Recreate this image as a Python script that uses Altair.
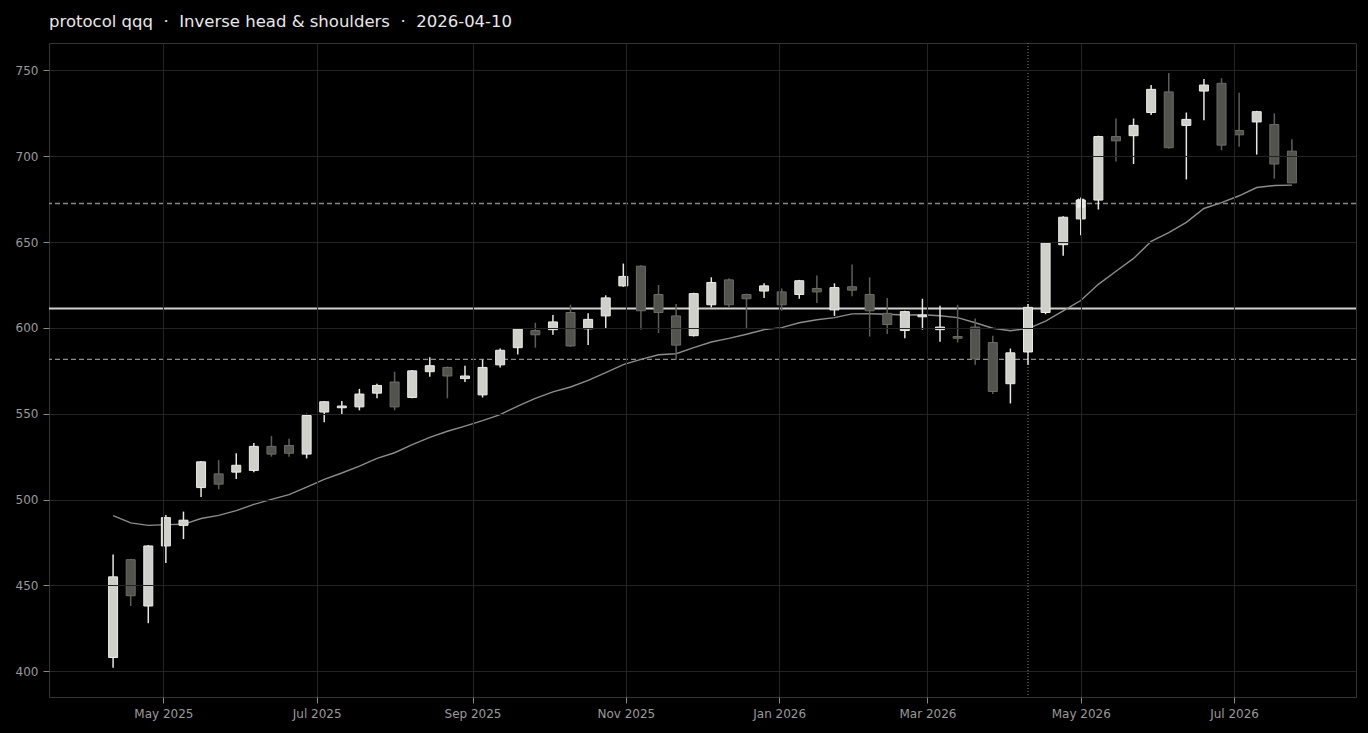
import altair as alt
import pandas as pd

# weekly candles (Fridays)
dates = pd.date_range("2025-04-11", periods=68, freq="7D").strftime("%Y-%m-%d").tolist()

opens = [408, 465, 438, 473, 485, 507, 515, 516, 517, 531, 531.5, 526.5, 551, 553.5, 554, 562,
         568.5, 559.5, 574.5, 577, 570.5, 561, 578.5, 588.5, 598.5, 599, 609, 599.5, 607, 624.5,
         636, 619.5, 607, 595.5, 613.5, 628, 619.5, 621.5, 621, 619.5, 623, 610.5, 624, 619.5,
         608.5, 598.5, 606.5, 599, 595, 600.5, 591.5, 567.5, 586, 609, 648.5, 663.5, 674.5, 711.5,
         712, 725.5, 737.5, 718, 738, 742.5, 715, 720, 718.5, 703]
highs = [468, 465.5, 473.5, 491, 493, 522.5, 523, 527, 533, 537, 535.5, 550, 557.5, 557.5, 564.5,
         567.5, 574.5, 575.5, 583, 577.5, 578, 581.5, 588, 600, 603, 607.5, 613.5, 608.5, 619,
         637.5, 636.5, 625, 614, 620.5, 629.5, 629, 620, 626, 623, 628, 630.5, 626, 637, 629.5,
         617.5, 610, 617, 613, 613.5, 605.5, 595.5, 588, 614, 650, 665, 676, 712, 722, 722, 741.5,
         748.5, 725.5, 745, 745.5, 737, 726.5, 725, 710]
lows = [402, 438, 428, 463, 477, 501.5, 506, 512, 516, 525, 525, 524, 545, 549.5, 552, 559, 552,
        559, 571.5, 559, 568.5, 559.5, 577, 584.5, 588.5, 596, 589, 590, 600, 624, 599, 597, 581.5,
        595, 612, 612, 600, 617.5, 610, 617, 614.5, 607, 618.5, 595, 596.5, 594, 599, 592, 591.5,
        578.5, 561.5, 556, 578.5, 608, 642, 654, 669, 697, 695.5, 724, 704.5, 686.5, 721, 703.5,
        705.5, 701, 687, 684.5]
closes = [455, 444, 473, 489.5, 488, 522, 509, 520, 531, 526.5, 527, 549, 557, 554.5, 561.5, 566.5,
          554, 575, 578, 572, 572, 577, 587, 599.5, 596, 603.5, 589.5, 605, 617.5, 630, 610, 609,
          590, 620, 626.5, 613.5, 617, 624.5, 613.5, 627.5, 621, 623.5, 622, 610, 602, 609.5, 607.5,
          600.5, 594, 582, 563, 585.5, 612, 649.5, 664.5, 674.5, 711.5, 709, 718, 739, 705, 721.5,
          741.5, 706.5, 712.5, 726, 695.5, 684.5]
ma = [490.7, 486.4, 485, 485.4, 485.6, 489, 490.8, 493.6, 497.2, 500.1, 502.9, 507.3, 511.8, 515.5,
      519.5, 524, 527.3, 532, 536.2, 539.8, 542.8, 546, 549.5, 554.5, 559, 562.8, 565.6, 569.5, 574,
      578.6, 581.7, 584.4, 585, 588.5, 591.8, 593.9, 596.3, 599, 600.2, 603, 604.8, 606, 608.2, 608.3,
      608, 607.5, 607.7, 607.1, 606, 603, 599.8, 598.4, 599.6, 604, 610, 616, 625.4, 633, 640.5,
      650.4, 655.5, 661.5, 669.6, 673, 677, 681.8, 683, 683.2]

neckline = 611.4
target = 672.5
stop = 581.7
breakout_date = "2026-04-10"
target_hit_date = "2026-05-01"
NB = "\u00a0"
title = f"protocol qqq{NB}{NB}·{NB}{NB}Inverse head & shoulders{NB}{NB}·{NB}{NB}2026-04-10"

df = pd.DataFrame({"date": dates, "open": opens, "high": highs, "low": lows, "close": closes, "ma": ma})
df["dir"] = ["up" if c >= o else "down" for o, c in zip(df["open"], df["close"])]
df["blo"] = df[["open", "close"]].min(axis=1)
df["bhi"] = df[["open", "close"]].max(axis=1)

xdom = [alt.DateTime(year=2025, month=3, date=16, hours=12, utc=True),
        alt.DateTime(year=2026, month=8, date=18, hours=12, utc=True)]
xticks = [alt.DateTime(year=y, month=m, date=1, utc=True) for y, m in
          [(2025, 5), (2025, 7), (2025, 9), (2025, 11), (2026, 1), (2026, 3), (2026, 5), (2026, 7)]]

xscale = alt.Scale(type="utc", domain=xdom, padding=0)
xenc = alt.X("date:T", scale=xscale,
             axis=alt.Axis(values=xticks, format="%b %Y", title=None, zindex=1))
yscale = alt.Scale(domain=[385, 766], nice=False, zero=False, padding=0)
yaxis = alt.Axis(values=[400, 450, 500, 550, 600, 650, 700, 750], title=None, zindex=1)

base = alt.Chart(df)

ma_line = base.mark_line(color="#8c8c8c", strokeWidth=1.4).encode(
    x=xenc, y=alt.Y("ma:Q", scale=yscale, axis=yaxis))

levels = pd.DataFrame({"v": [target, stop]})
dashed = alt.Chart(levels).mark_rule(color="#8a8a8a", strokeWidth=1.4, strokeDash=[5, 3]).encode(
    y=alt.Y("v:Q", scale=yscale))
neck = alt.Chart(pd.DataFrame({"v": [neckline]})).mark_rule(color="#d0d0cc", strokeWidth=2).encode(
    y=alt.Y("v:Q", scale=yscale))
vline = alt.Chart(pd.DataFrame({"d": [breakout_date]})).mark_rule(
    color="#8a8a8a", strokeWidth=1, strokeDash=[1, 2]).encode(x=alt.X("d:T", scale=xscale))

wick = base.mark_rule(strokeWidth=1.5).encode(
    x=xenc, y=alt.Y("low:Q", scale=yscale), y2="high:Q",
    color=alt.Color("dir:N", scale=alt.Scale(domain=["up", "down"], range=["#e6e6e2", "#5e5e59"]), legend=None))

body = base.mark_bar(size=9, strokeWidth=1).encode(
    x=xenc, y=alt.Y("blo:Q", scale=yscale), y2="bhi:Q",
    fill=alt.Fill("dir:N", scale=alt.Scale(domain=["up", "down"], range=["#d0d0ca", "#53534e"]), legend=None),
    stroke=alt.Stroke("dir:N", scale=alt.Scale(domain=["up", "down"], range=["#ecece8", "#6c6c67"]), legend=None))

hit = alt.Chart(pd.DataFrame({"d": [target_hit_date], "v": [target]})).mark_point(
    shape="cross", angle=45, filled=True, size=110, color="#e8e8e4", opacity=1).encode(
    x=alt.X("d:T", scale=xscale), y=alt.Y("v:Q", scale=yscale))

chart = alt.layer(neck, dashed, vline, ma_line, wick, body, hit).properties(
    width=1307, height=654,
    title=alt.TitleParams(title, anchor="start", frame="group", fontSize=16.5, color="#e8e8e8",
                          font="DejaVu Sans", fontWeight="normal", offset=12),
    autosize=alt.AutoSizeParams(type="none"),
    padding={"left": 41, "top": 35, "right": 4, "bottom": 30},
    background="#000000",
).configure_view(stroke="#333333", strokeWidth=1).configure_axis(
    grid=True, gridColor="#242424", gridWidth=1, domain=False,
    tickColor="#8a8a8a", tickSize=6, labelColor="#9a9a9a", labelFont="DejaVu Sans",
    labelFontSize=12, labelPadding=5,
)

chart.save("out.html", embed_options={"renderer": "svg", "actions": False})

with open("out.html", encoding="utf-8") as f:
    html = f.read()
html = html.replace("<head>", "<head><style>html,body{background:#000000;}</style>", 1)
with open("out.html", "w", encoding="utf-8") as f:
    f.write(html)
